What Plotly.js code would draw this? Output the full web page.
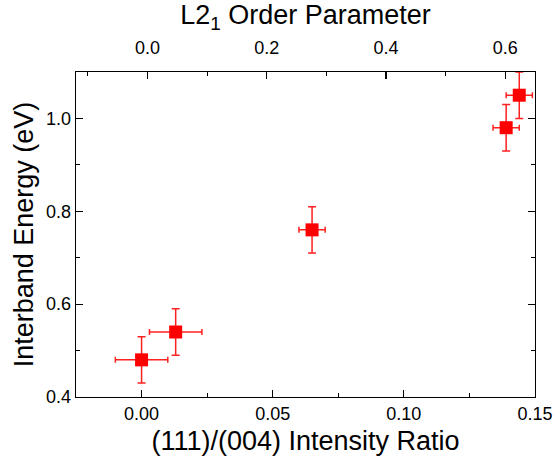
<!DOCTYPE html>
<html>
<head>
<meta charset="utf-8">
<script src="https://cdn.plot.ly/plotly-3.0.1.min.js"></script>
<style>html,body{margin:0;padding:0;background:#fff;}#chart{width:554px;height:466px;}</style>
</head>
<body>
<div id="chart"></div>
<script>
// Data
const intensityRatio = [0.0, 0.013, 0.065, 0.139, 0.144];
const interbandEnergy = [0.48, 0.54, 0.76, 0.98, 1.05];
const ratioError = [0.01, 0.01, 0.005, 0.005, 0.005];
const energyError = [0.05, 0.05, 0.05, 0.05, 0.05];

const xTitle = "(111)/(004) Intensity Ratio";
const yTitle = "Interband Energy (eV)";
const topTitle = "L2<sub>1</sub> Order Parameter";

const FONT = "Arial, 'Liberation Sans', sans-serif";

const traces = [
  {
    x: intensityRatio,
    y: interbandEnergy,
    type: "scatter",
    mode: "markers",
    marker: {symbol: "square", size: 13, color: "#ff0000"},
    error_x: {type: "data", array: ratioError, visible: true, color: "#ff2020", thickness: 1.5, width: 3},
    error_y: {type: "data", array: energyError, visible: true, color: "#ff2020", thickness: 1.5, width: 4},
    hoverinfo: "x+y",
    showlegend: false
  },
  {
    x: [], y: [], xaxis: "x2", yaxis: "y", type: "scatter", mode: "markers",
    hoverinfo: "skip", showlegend: false
  }
];

const axisCommon = {
  showgrid: false, zeroline: false,
  showline: true, linecolor: "#000", linewidth: 1.3,
  ticks: "inside", ticklen: 7, tickwidth: 1.2, tickcolor: "#000",
  tickfont: {family: FONT, size: 18, color: "#000"}
};

const layout = {
  width: 554, height: 466,
  margin: {l: 76, r: 19, t: 72, b: 69},
  paper_bgcolor: "#fff", plot_bgcolor: "#fff",
  font: {family: FONT, color: "#000"},
  xaxis: Object.assign({}, axisCommon, {
    range: [-0.025, 0.15], dtick: 0.05, tick0: 0, tickformat: ".2f",
    mirror: true,
    minor: {dtick: 0.025, ticks: "inside", ticklen: 4, tickcolor: "#000", tickwidth: 1},
    title: {text: xTitle, font: {family: FONT, size: 27, color: "#000"}, standoff: 8}
  }),
  xaxis2: Object.assign({}, axisCommon, {
    overlaying: "x", side: "top", anchor: "y",
    range: [-0.12, 0.65], dtick: 0.2, tick0: 0, tickformat: ".1f",
    ticklabelstandoff: 10,
    minor: {dtick: 0.1, ticks: "inside", ticklen: 4, tickcolor: "#000", tickwidth: 1},
    title: {text: topTitle, font: {family: FONT, size: 27, color: "#000"}, standoff: 6}
  }),
  yaxis: Object.assign({}, axisCommon, {
    range: [0.4, 1.1], dtick: 0.2, tick0: 0, tickformat: ".1f",
    mirror: "ticks",
    minor: {dtick: 0.1, ticks: "inside", ticklen: 4, tickcolor: "#000", tickwidth: 1},
    title: {text: yTitle, font: {family: FONT, size: 27, color: "#000"}, standoff: 4}
  })
};

Plotly.newPlot("chart", traces, layout, {displayModeBar: false, staticPlot: true});
</script>
</body>
</html>
